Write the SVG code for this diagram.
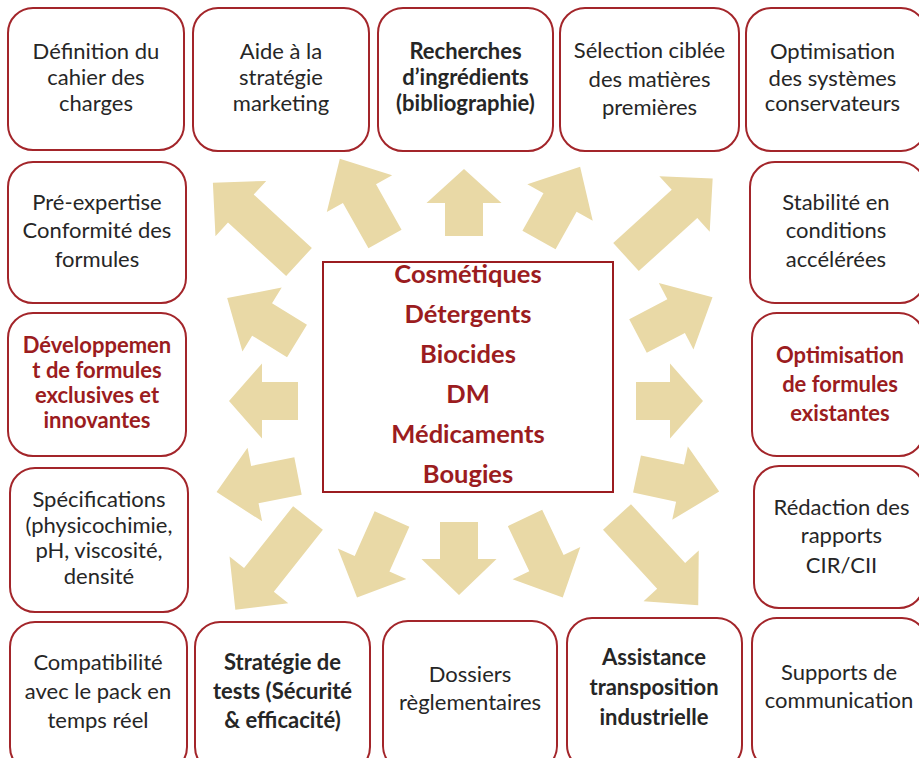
<svg xmlns="http://www.w3.org/2000/svg" width="919" height="758" viewBox="0 0 919 758">
<style>
.box{fill:#fff;stroke:#a3252a;stroke-width:2}
.t{font-family:Lato,"Open Sans","Liberation Sans",sans-serif;font-size:22px;fill:#262626;text-anchor:middle}
.b{font-weight:bold}
.r{fill:#9b1c20}
.arr{fill:#e9d9a6}
.c{font-family:Lato,"Open Sans","Liberation Sans",sans-serif;font-size:25.5px;font-weight:bold;fill:#9b1c20;text-anchor:middle}
</style>
<rect width="919" height="758" fill="#fff"/>
<g id="connectors">
<polygon class="arr" transform="translate(299,262) rotate(222.6)" points="0,-19 79,-19 79,-37.5 117,0 79,37.5 79,19 0,19"/>
<polygon class="arr" transform="translate(385,239) rotate(240.6)" points="0,-19 52,-19 52,-37.5 92,0 52,37.5 52,19 0,19"/>
<polygon class="arr" transform="translate(464,236) rotate(270)" points="0,-19 33,-19 33,-37.5 67,0 33,37.5 33,19 0,19"/>
<polygon class="arr" transform="translate(539,240) rotate(299.3)" points="0,-19 43,-19 43,-37.5 84,0 43,37.5 43,19 0,19"/>
<polygon class="arr" transform="translate(626,257) rotate(317.8)" points="0,-19 79,-19 79,-37.5 117,0 79,37.5 79,19 0,19"/>
<polygon class="arr" transform="translate(638,336) rotate(332.5)" points="0,-19 43,-19 43,-37.5 84,0 43,37.5 43,19 0,19"/>
<polygon class="arr" transform="translate(636,401) rotate(0)" points="0,-19 34,-19 34,-37.5 67,0 34,37.5 34,19 0,19"/>
<polygon class="arr" transform="translate(637,474) rotate(12)" points="0,-19 44,-19 44,-37.5 84,0 44,37.5 44,19 0,19"/>
<polygon class="arr" transform="translate(617,517) rotate(47.4)" points="0,-19 80,-19 80,-37.5 120,0 80,37.5 80,19 0,19"/>
<polygon class="arr" transform="translate(525,518) rotate(64.6)" points="0,-19 50,-19 50,-37.5 88,0 50,37.5 50,19 0,19"/>
<polygon class="arr" transform="translate(459,522) rotate(90)" points="0,-19 37,-19 37,-37.5 73,0 37,37.5 37,19 0,19"/>
<polygon class="arr" transform="translate(392,519) rotate(114)" points="0,-19 49,-19 49,-37.5 86,0 49,37.5 49,19 0,19"/>
<polygon class="arr" transform="translate(308,518) rotate(128.4)" points="0,-19 79,-19 79,-37.5 117,0 79,37.5 79,19 0,19"/>
<polygon class="arr" transform="translate(298,476) rotate(168.8)" points="0,-19 44,-19 44,-37.5 83,0 44,37.5 44,19 0,19"/>
<polygon class="arr" transform="translate(298,401) rotate(180)" points="0,-19 36,-19 36,-37.5 69,0 36,37.5 36,19 0,19"/>
<polygon class="arr" transform="translate(297,341) rotate(211.6)" points="0,-19 41,-19 41,-37.5 82,0 41,37.5 41,19 0,19"/>
</g>
<g id="center">
<rect x="323" y="262" width="290" height="230" fill="#fff" stroke="#9b1c20" stroke-width="2"/>
<text class="c" x="468" y="283">Cosmétiques</text>
<text class="c" x="468" y="323">Détergents</text>
<text class="c" x="468" y="363">Biocides</text>
<text class="c" x="468" y="403">DM</text>
<text class="c" x="468" y="443">Médicaments</text>
<text class="c" x="468" y="483">Bougies</text>
</g>
<g id="n1"><rect class="box" x="8" y="8" width="176" height="142" rx="25"/>
<text class="t" x="96" y="59">Définition du</text><text class="t" x="96" y="85">cahier des</text><text class="t" x="96" y="111">charges</text></g>
<g id="n2"><rect class="box" x="193" y="8" width="176" height="143" rx="25"/>
<text class="t" x="281" y="59">Aide à la</text><text class="t" x="281" y="85">stratégie</text><text class="t" x="281" y="111">marketing</text></g>
<g id="n3"><rect class="box" x="378" y="8" width="175" height="143" rx="25"/>
<text class="t b" x="465.5" y="59">Recherches</text><text class="t b" x="465.5" y="85">d’ingrédients</text><text class="t b" x="465.5" y="111">(bibliographie)</text></g>
<g id="n4"><rect class="box" x="560" y="8" width="179" height="143" rx="25"/>
<text class="t" x="649.5" y="58">Sélection ciblée</text><text class="t" x="649.5" y="87">des matières</text><text class="t" x="649.5" y="115">premières</text></g>
<g id="n5"><rect class="box" x="746" y="8" width="180" height="143" rx="25"/>
<text class="t" x="832.5" y="59">Optimisation</text><text class="t" x="832.5" y="86">des systèmes</text><text class="t" x="832.5" y="111">conservateurs</text></g>
<g id="n6"><rect class="box" x="8" y="162" width="178" height="141" rx="25"/>
<text class="t" x="97" y="210">Pré-expertise</text><text class="t" x="97" y="238">Conformité des</text><text class="t" x="97" y="267">formules</text></g>
<g id="n7"><rect class="box" x="750" y="162" width="175" height="141" rx="25"/>
<text class="t" x="836" y="210">Stabilité en</text><text class="t" x="836" y="238">conditions</text><text class="t" x="836" y="267">accélérées</text></g>
<g id="n8"><rect class="box" x="8" y="313" width="178" height="143" rx="25"/>
<text class="t b r" x="97" y="353">Développemen</text><text class="t b r" x="97" y="378">t de formules</text><text class="t b r" x="97" y="403">exclusives et</text><text class="t b r" x="97" y="428">innovantes</text></g>
<g id="n9"><rect class="box" x="752" y="313" width="172" height="143" rx="25"/>
<text class="t b r" x="840" y="363">Optimisation</text><text class="t b r" x="840" y="392">de formules</text><text class="t b r" x="840" y="421">existantes</text></g>
<g id="n10"><rect class="box" x="10" y="468" width="178" height="144" rx="25"/>
<text class="t" x="99" y="507">Spécifications</text><text class="t" x="99" y="533">(physicochimie,</text><text class="t" x="99" y="558">pH, viscosité,</text><text class="t" x="99" y="584">densité</text></g>
<g id="n11"><rect class="box" x="754" y="466" width="170" height="142" rx="25"/>
<text class="t" x="841.5" y="515">Rédaction des</text><text class="t" x="841.5" y="543">rapports</text><text class="t" x="841.5" y="573">CIR/CII</text></g>
<g id="n12"><rect class="box" x="10" y="622" width="177" height="150" rx="25"/>
<text class="t" x="98" y="670">Compatibilité</text><text class="t" x="98" y="699">avec le pack en</text><text class="t" x="98" y="728">temps réel</text></g>
<g id="n13"><rect class="box" x="195" y="622" width="175" height="150" rx="25"/>
<text class="t b" x="282.5" y="670">Stratégie de</text><text class="t b" x="282.5" y="699">tests (Sécurité</text><text class="t b" x="282.5" y="728">&amp; efficacité)</text></g>
<g id="n14"><rect class="box" x="383" y="621" width="174" height="150" rx="25"/>
<text class="t" x="470" y="682">Dossiers</text><text class="t" x="470" y="710">règlementaires</text></g>
<g id="n15"><rect class="box" x="567" y="618" width="175" height="152" rx="25"/>
<text class="t b" x="654" y="665">Assistance</text><text class="t b" x="654" y="695">transposition</text><text class="t b" x="654" y="725">industrielle</text></g>
<g id="n16"><rect class="box" x="752" y="618" width="175" height="152" rx="25"/>
<text class="t" x="839" y="680">Supports de</text><text class="t" x="839" y="708">communication</text></g>
</svg>
